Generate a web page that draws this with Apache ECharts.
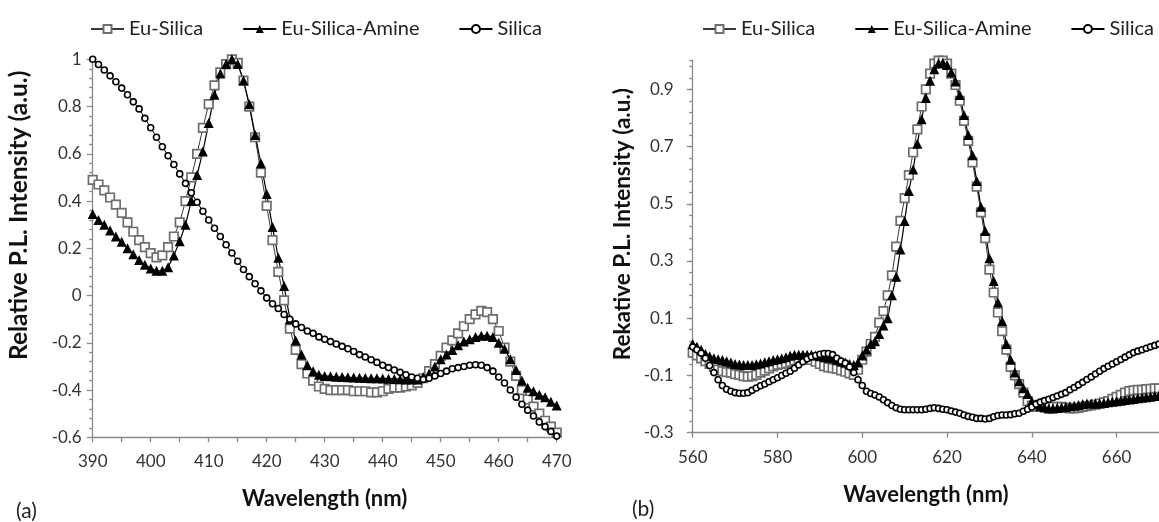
<!DOCTYPE html>
<html>
<head>
<meta charset="utf-8">
<script src="https://cdn.jsdelivr.net/npm/echarts@6/dist/echarts.min.js"></script>
<style>
html,body{margin:0;padding:0;background:#fff;}
#chart{width:1159px;height:522px;}
</style>
</head>
<body>
<div id="chart"></div>
<script>
// ---------- Panel (a) ----------
const wavelengthA = [
  390,391,392,393,394,395,396,397,398,399,
  400,401,402,403,404,405,406,407,408,409,
  410,411,412,413,414,415,416,417,418,419,
  420,421,422,423,424,425,426,427,428,429,
  430,431,432,433,434,435,436,437,438,439,
  440,441,442,443,444,445,446,447,448,449,
  450,451,452,453,454,455,456,457,458,459,
  460,461,462,463,464,465,466,467,468,469,
  470
];
const euSilicaA = [
  0.49,0.47,0.445,0.415,0.385,0.35,0.31,0.27,0.235,0.205,
  0.18,0.162,0.17,0.205,0.25,0.31,0.40,0.50,0.60,0.71,
  0.81,0.89,0.945,0.98,1.0,0.985,0.91,0.80,0.67,0.52,
  0.38,0.235,0.10,-0.02,-0.14,-0.23,-0.29,-0.33,-0.36,-0.385,
  -0.395,-0.40,-0.40,-0.40,-0.40,-0.405,-0.405,-0.405,-0.41,-0.41,
  -0.405,-0.395,-0.39,-0.39,-0.385,-0.38,-0.37,-0.35,-0.32,-0.29,
  -0.255,-0.22,-0.19,-0.16,-0.13,-0.10,-0.08,-0.065,-0.07,-0.10,
  -0.15,-0.22,-0.28,-0.34,-0.40,-0.44,-0.47,-0.50,-0.53,-0.555,
  -0.58
];
const euSilicaAmineA = [
  0.345,0.32,0.30,0.275,0.25,0.228,0.20,0.175,0.15,0.13,
  0.115,0.105,0.105,0.12,0.17,0.23,0.30,0.40,0.51,0.61,
  0.73,0.85,0.94,0.98,1.0,0.98,0.91,0.81,0.68,0.56,
  0.43,0.29,0.16,0.04,-0.10,-0.19,-0.25,-0.295,-0.32,-0.335,
  -0.34,-0.342,-0.344,-0.345,-0.346,-0.347,-0.348,-0.349,-0.35,-0.35,
  -0.351,-0.352,-0.353,-0.354,-0.355,-0.355,-0.355,-0.345,-0.33,-0.30,
  -0.27,-0.25,-0.23,-0.21,-0.195,-0.185,-0.175,-0.17,-0.17,-0.175,
  -0.20,-0.225,-0.27,-0.315,-0.36,-0.39,-0.405,-0.42,-0.43,-0.45,
  -0.465
];
const silicaA = [
  1.00,0.978,0.955,0.93,0.905,0.878,0.85,0.82,0.79,0.75,
  0.71,0.67,0.63,0.592,0.555,0.515,0.475,0.435,0.395,0.357,
  0.32,0.285,0.25,0.215,0.18,0.145,0.11,0.08,0.05,0.02,
  -0.01,-0.035,-0.055,-0.08,-0.10,-0.12,-0.135,-0.15,-0.16,-0.175,
  -0.185,-0.195,-0.205,-0.215,-0.225,-0.237,-0.25,-0.26,-0.272,-0.283,
  -0.295,-0.305,-0.315,-0.325,-0.335,-0.345,-0.35,-0.355,-0.35,-0.34,
  -0.33,-0.32,-0.31,-0.305,-0.30,-0.295,-0.293,-0.295,-0.305,-0.32,
  -0.345,-0.37,-0.40,-0.43,-0.46,-0.485,-0.51,-0.535,-0.555,-0.575,
  -0.595
];

// ---------- Panel (b) ----------
const wavelengthB = [
  560,561,562,563,564,565,566,567,568,569,
  570,571,572,573,574,575,576,577,578,579,
  580,581,582,583,584,585,586,587,588,589,
  590,591,592,593,594,595,596,597,598,599,
  600,601,602,603,604,605,606,607,608,609,
  610,611,612,613,614,615,616,617,618,619,
  620,621,622,623,624,625,626,627,628,629,
  630,631,632,633,634,635,636,637,638,639,
  640,641,642,643,644,645,646,647,648,649,
  650,651,652,653,654,655,656,657,658,659,
  660,661,662,663,664,665,666,667,668,669,
  670
];
const euSilicaB = [
  -0.02,-0.03,-0.04,-0.05,-0.06,-0.07,-0.08,-0.085,-0.088,-0.09,
  -0.095,-0.098,-0.102,-0.104,-0.102,-0.098,-0.09,-0.083,-0.075,-0.068,
  -0.063,-0.06,-0.057,-0.052,-0.047,-0.044,-0.04,-0.042,-0.046,-0.052,
  -0.06,-0.067,-0.072,-0.074,-0.077,-0.082,-0.087,-0.093,-0.098,-0.08,
  -0.045,-0.017,0.01,0.035,0.085,0.125,0.18,0.25,0.35,0.44,
  0.52,0.60,0.68,0.76,0.84,0.90,0.955,0.99,1.0,1.0,
  0.99,0.955,0.915,0.86,0.79,0.72,0.645,0.56,0.47,0.38,
  0.27,0.19,0.12,0.055,-0.01,-0.07,-0.10,-0.13,-0.16,-0.19,
  -0.205,-0.21,-0.21,-0.21,-0.21,-0.21,-0.21,-0.21,-0.212,-0.215,
  -0.215,-0.213,-0.21,-0.207,-0.205,-0.202,-0.198,-0.194,-0.19,-0.182,
  -0.175,-0.168,-0.16,-0.155,-0.152,-0.15,-0.15,-0.148,-0.147,-0.145,
  -0.145
];
const euSilicaAmineB = [
  0.01,0.0,-0.01,-0.025,-0.033,-0.04,-0.043,-0.046,-0.05,-0.055,
  -0.06,-0.062,-0.063,-0.063,-0.063,-0.061,-0.058,-0.054,-0.05,-0.046,
  -0.043,-0.04,-0.036,-0.031,-0.028,-0.028,-0.028,-0.028,-0.028,-0.03,
  -0.033,-0.035,-0.038,-0.04,-0.045,-0.05,-0.055,-0.06,-0.063,-0.055,
  -0.03,-0.01,0.01,0.02,0.045,0.075,0.10,0.18,0.245,0.34,
  0.44,0.545,0.62,0.71,0.795,0.87,0.93,0.97,0.99,0.993,
  0.985,0.96,0.927,0.88,0.81,0.74,0.67,0.58,0.49,0.405,
  0.31,0.23,0.155,0.09,0.01,-0.045,-0.09,-0.12,-0.145,-0.165,
  -0.19,-0.20,-0.208,-0.212,-0.215,-0.215,-0.214,-0.212,-0.21,-0.208,
  -0.206,-0.203,-0.20,-0.198,-0.198,-0.198,-0.198,-0.196,-0.194,-0.192,
  -0.19,-0.188,-0.186,-0.184,-0.182,-0.18,-0.178,-0.176,-0.174,-0.172,
  -0.17
];
const silicaB = [
  0.0,-0.01,-0.022,-0.04,-0.065,-0.09,-0.115,-0.135,-0.148,-0.155,
  -0.16,-0.162,-0.162,-0.16,-0.152,-0.144,-0.136,-0.13,-0.122,-0.115,
  -0.108,-0.10,-0.092,-0.085,-0.075,-0.063,-0.052,-0.042,-0.035,-0.03,
  -0.026,-0.023,-0.023,-0.027,-0.04,-0.05,-0.057,-0.07,-0.09,-0.115,
  -0.135,-0.155,-0.163,-0.168,-0.175,-0.185,-0.195,-0.205,-0.213,-0.218,
  -0.22,-0.22,-0.22,-0.22,-0.22,-0.218,-0.215,-0.213,-0.215,-0.218,
  -0.22,-0.224,-0.228,-0.232,-0.238,-0.243,-0.246,-0.25,-0.25,-0.252,
  -0.25,-0.244,-0.24,-0.238,-0.238,-0.237,-0.234,-0.232,-0.225,-0.218,
  -0.21,-0.20,-0.193,-0.188,-0.183,-0.177,-0.172,-0.166,-0.16,-0.15,
  -0.142,-0.133,-0.124,-0.114,-0.105,-0.095,-0.085,-0.076,-0.068,-0.06,
  -0.052,-0.044,-0.036,-0.028,-0.02,-0.015,-0.01,-0.005,0.0,0.005,
  0.01
];

const seriesNames = ['Eu-Silica', 'Eu-Silica-Amine', 'Silica'];
const xTitle = 'Wavelength (nm)';
const yTitleA = 'Relative P.L. Intensity (a.u.)';
const yTitleB = 'Rekative P.L. Intensity (a.u.)';

const FONT = 'Lato';
const AXIS_COLOR = '#8a8a8a';
const LABEL_COLOR = '#333';

function zip(xs, ys) { return xs.map((x, i) => [x, ys[i]]); }

const styles = [
  { symbol: 'rect', symbolSize: 8.5, itemStyle: { color: '#fff', borderColor: '#6e6e6e', borderWidth: 1.7 }, lineStyle: { color: '#3a3a3a', width: 1 } },
  { symbol: 'triangle', symbolSize: 10, itemStyle: { color: '#000' }, lineStyle: { color: '#000', width: 1.2 } },
  { symbol: 'circle', symbolSize: 6, itemStyle: { color: '#fff', borderColor: '#000', borderWidth: 1.6 }, lineStyle: { color: '#000', width: 1 } }
];

function mkSeries(name, idx, data, grid) {
  const s = styles[idx];
  return {
    name: name, type: 'line', xAxisIndex: grid, yAxisIndex: grid,
    data: data, showSymbol: true, showAllSymbol: true,
    symbol: s.symbol, symbolSize: s.symbolSize,
    itemStyle: s.itemStyle, lineStyle: s.lineStyle,
    emphasis: { disabled: true }, clip: false
  };
}

const lineSt = { color: AXIS_COLOR, width: 1.3 };

function xAxisCfg(grid, min, max, interval, minor) {
  return {
    type: 'value', gridIndex: grid, min: min, max: max, interval: interval,
    axisLine: { show: true, onZero: false, lineStyle: lineSt },
    axisTick: { show: true, length: 5, lineStyle: lineSt },
    minorTick: { show: minor, splitNumber: 2, length: 5, lineStyle: lineSt },
    splitLine: { show: false }, minorSplitLine: { show: false },
    axisLabel: { fontSize: 17, color: LABEL_COLOR, fontFamily: FONT, margin: 16, showMaxLabel: grid === 0 },
    name: xTitle, nameLocation: 'middle', nameGap: 51,
    nameTextStyle: { fontSize: 22, fontWeight: 'bold', color: '#111', fontFamily: FONT }
  };
}

function legendCfg(left) {
  return {
    left: left, top: 19, width: 470, padding: 0, itemWidth: 33, itemHeight: 10, itemGap: 39,
    selectedMode: false, data: seriesNames,
    textStyle: { fontSize: 20, color: '#222', fontFamily: FONT }
  };
}

const option = {
  animation: false,
  backgroundColor: '#fff',
  textStyle: { fontFamily: FONT },
  title: [
    { text: '(a)', left: 11, top: 496, textStyle: { fontSize: 21, fontWeight: 'normal', color: '#222', fontFamily: FONT } },
    { text: '(b)', left: 627, top: 494, textStyle: { fontSize: 21, fontWeight: 'normal', color: '#222', fontFamily: FONT } }
  ],
  legend: [legendCfg(90), legendCfg(702)],
  grid: [
    { left: 92.7, top: 59.3, width: 464, height: 378 },
    { left: 692.7, top: 60.7, right: 0, height: 372 }
  ],
  xAxis: [
    xAxisCfg(0, 390, 470, 10, true),
    xAxisCfg(1, 560, 670, 20, false)
  ],
  yAxis: [
    {
      type: 'value', gridIndex: 0, min: -0.6, max: 1, interval: 0.2,
      axisLine: { show: true, onZero: false, lineStyle: lineSt },
      axisTick: { show: true, length: 6, lineStyle: lineSt },
      minorTick: { show: true, splitNumber: 5, length: 3.5, lineStyle: lineSt },
      splitLine: { show: false }, minorSplitLine: { show: false },
      axisLabel: { fontSize: 17, color: LABEL_COLOR, fontFamily: FONT, margin: 11 },
      name: yTitleA, nameLocation: 'middle', nameGap: 61,
      nameTextStyle: { fontSize: 24.5, fontWeight: 'bold', color: '#111', fontFamily: FONT, padding: [0, 0, 0, 66] }
    },
    {
      type: 'value', gridIndex: 1, min: -0.3, max: 1.0, interval: 0.2, position: 'left',
      axisLine: { show: true, onZero: false, lineStyle: lineSt },
      axisTick: { show: true, length: 6, lineStyle: lineSt },
      splitLine: { show: false },
      axisLabel: { fontSize: 17, color: LABEL_COLOR, fontFamily: FONT, margin: 19, showMaxLabel: false },
      name: yTitleB, nameLocation: 'middle', nameGap: 58,
      nameTextStyle: { fontSize: 22.5, fontWeight: 'bold', color: '#111', fontFamily: FONT, padding: [0, 0, 0, 45] }
    },
    {
      type: 'value', gridIndex: 1, min: -0.3, max: 1.0, interval: 0.04, position: 'left',
      axisLine: { show: false, onZero: false },
      axisTick: { show: true, length: 3.5, lineStyle: lineSt },
      splitLine: { show: false },
      axisLabel: { show: false }
    }
  ],
  series: [
    mkSeries(seriesNames[0], 0, zip(wavelengthA, euSilicaA), 0),
    mkSeries(seriesNames[1], 1, zip(wavelengthA, euSilicaAmineA), 0),
    mkSeries(seriesNames[2], 2, zip(wavelengthA, silicaA), 0),
    mkSeries(seriesNames[0], 0, zip(wavelengthB, euSilicaB), 1),
    mkSeries(seriesNames[1], 1, zip(wavelengthB, euSilicaAmineB), 1),
    mkSeries(seriesNames[2], 2, zip(wavelengthB, silicaB), 1)
  ]
};

const chart = echarts.init(document.getElementById('chart'), null, { renderer: 'canvas' });
chart.setOption(option);
</script>
</body>
</html>
